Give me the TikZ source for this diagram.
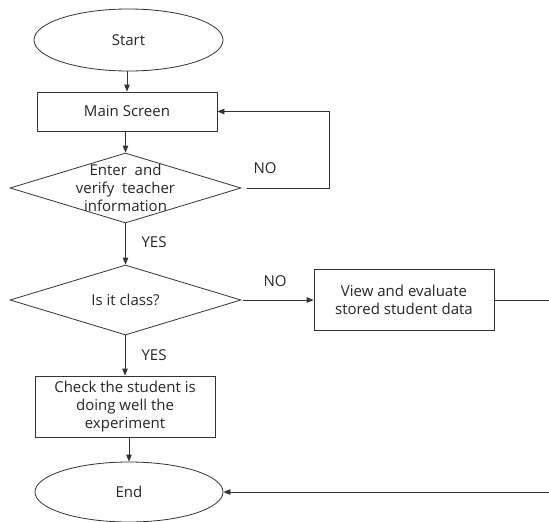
\documentclass[tikz,border=0pt]{standalone}
\usepackage{fontspec}
\setmainfont{Open Sans}
\usetikzlibrary{shapes.geometric,arrows.meta}
\begin{document}
\begin{tikzpicture}[x=1pt,y=-1pt,
  every node/.style={font=\fontsize{15}{18}\selectfont, text=black!85},
  shapeline/.style={draw=black!80, line width=0.8pt, fill=white},
  term/.style={shapeline, ellipse, inner sep=0pt},
  proc/.style={shapeline, rectangle, minimum width=180pt, align=center, inner sep=0pt},
  dec/.style={shapeline, diamond, minimum width=231pt, minimum height=70pt, inner sep=0pt},
  txt/.style={align=center, inner sep=0pt},
  lbl/.style={inner sep=0pt},
  conn/.style={draw=black!80, line width=0.8pt},
  arr/.style={conn, -{Triangle[length=7pt,width=5.5pt]}}
]
\useasboundingbox (0,0) rectangle (549,522);

\node[term, minimum width=189pt, minimum height=62pt] (start) at (128.5,40) {Start};
\node[proc, minimum height=39pt] (main) at (127,111.5) {Main Screen};
\node[dec] (d1) at (125.5,188) {};
\node[txt] (d1t) at (125.5,188) {Enter\ \ and\\verify\ \ teacher\\information};
\node[dec] (d2) at (125.5,300) {};
\node[txt] (d2t) at (125.5,300) {Is it class?};
\node[proc, minimum height=61pt] (view) at (404,300) {View and evaluate\\stored student data};
\node[proc, minimum height=61pt] (check) at (125,406.5) {Check the student is\\doing well the\\experiment};
\node[term, minimum width=188pt, minimum height=60pt] (end) at (129,492) {End};

\node[lbl] (no1) at (265,168) {NO};
\node[lbl] (yes1) at (154,242) {YES};
\node[lbl] (no2) at (275,281) {NO};
\node[lbl] (yes2) at (154,355) {YES};

\coordinate (loopc) at (329,188);
\coordinate (redge1) at (549,300);
\coordinate (redge2) at (549,492);

\draw[arr] (start.south -| main) -- (main.north);
\draw[arr] (main.south -| d1) -- (d1.north);
\draw[arr] ([xshift=6pt]d1.east) -- (loopc) |- (main.east);
\draw[arr] (d1.south) -- (d2.north);
\draw[arr] ([xshift=2pt]d2.east) -- (view.west);
\draw[conn] (view.east) -- (redge1);
\draw[arr] (d2.south -| check) -- (check.north);
\draw[arr] (check.south -| end) -- (end.north);
\draw[arr] (redge2) -- (end.east);
\end{tikzpicture}
\end{document}
